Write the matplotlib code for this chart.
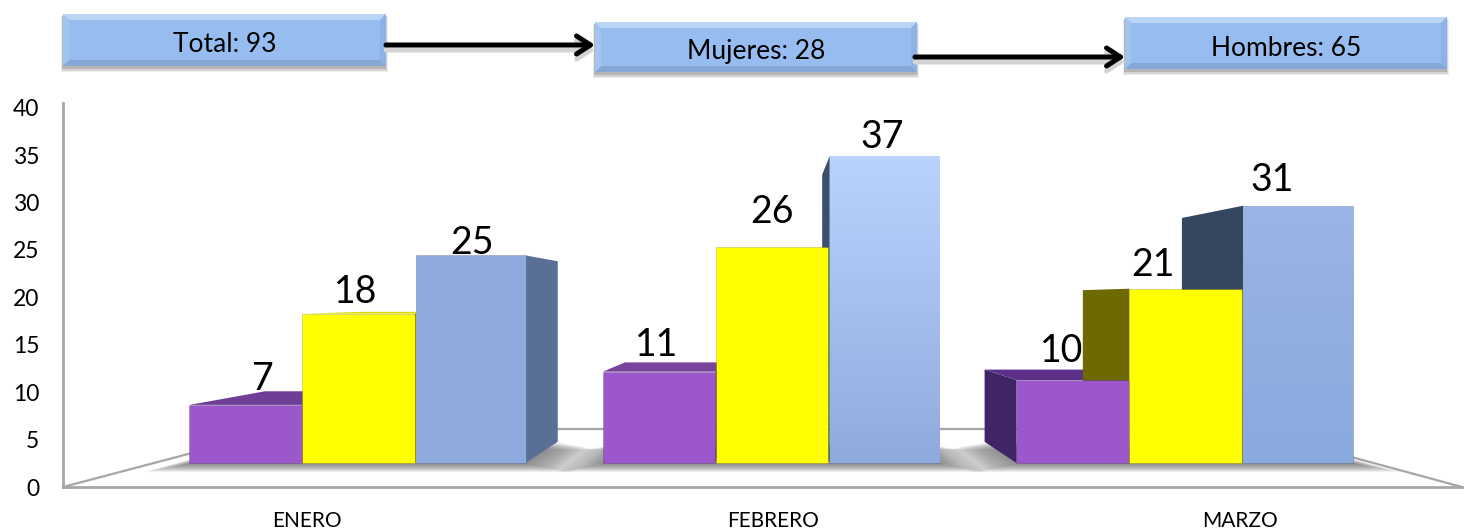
import numpy as np
import matplotlib
matplotlib.use('Agg')
import matplotlib.pyplot as plt
from matplotlib.colors import LinearSegmentedColormap
from matplotlib.patches import Polygon, Rectangle

plt.rcParams['font.family'] = ['Lato', 'DejaVu Sans']

# data
months = ['ENERO', 'FEBRERO', 'MARZO']
purple_vals = [7, 11, 10]
yellow_vals = [18, 26, 21]
blue_vals = [25, 37, 31]
y_ticks = [0, 5, 10, 15, 20, 25, 30, 35, 40]
box_labels = ['Total: 93', 'Mujeres: 28', 'Hombres: 65']

W, H = 1471, 531
fig = plt.figure(figsize=(W / 100, H / 100), dpi=100)

# the axis frame, a little wider than the bars because of the fake perspective
ax = fig.add_axes([63 / W, (H - 487) / H, (1462 - 63) / W, (487 - 103) / H])
x_lim = (-0.523, 2.477)
ax.set_xlim(x_lim)
ax.set_ylim(0, 40.5)
ax.set_xticks(range(3), months)
ax.set_yticks(y_ticks)
ax.tick_params(axis='both', length=0)
ax.tick_params(axis='x', labelsize=15, pad=17)
ax.tick_params(axis='y', labelsize=16.5, pad=17)
ax.spines[['top', 'right']].set_visible(False)
ax.spines[['left', 'bottom']].set_color('#a6a6a6')
ax.spines[['left', 'bottom']].set_linewidth(2)

# bars live on their own scale: 8.3 px per unit, base at y=463, groups 413.5 px apart
bx = fig.add_axes([0, 0, 1, 1], zorder=2)
bx.patch.set_alpha(0)
bx.axis('off')
xlim = (-358.5 / 413.5, (W - 358.5) / 413.5)
ylim = ((463 - H) / 8.3, 463 / 8.3)
bx.set_xlim(xlim)
bx.set_ylim(ylim)

# vanishing point of the 3D look
vp = np.array([1.0, (463 - 300) / 8.3])
depth = 0.13


def back(x, y, k=depth):
    return (x + k * (vp[0] - x), y + k * (vp[1] - y))


# floor
c0 = bx.transData.inverted().transform(ax.transData.transform((x_lim[0], 0)))
c1 = bx.transData.inverted().transform(ax.transData.transform((x_lim[1], 0)))
floor_pts = [c0, back(*c0, k=0.31), back(*c1, k=0.31), c1]
xs, ys = zip(*floor_pts)
bx.plot(xs, ys, color='#a6a6a6', lw=1.6, zorder=1)

widths = [0.272, 0.272, 0.265]
offsets = [-0.273, 0, 0.272]
series = [purple_vals, yellow_vals, blue_vals]
front_cols = ['#9c57cd', '#ffff00', '#8faadc']
cap_cols = [['#6f3f98', '#7a449c', '#5c2f88'], ['#d9d900', '#c8c800', '#6c6a00'], ['#7d96c4', '#7d96c4', '#7d96c4']]
side_cols = [['#5a2f80', '#5a2f80', '#3f2566'], ['#6c6a00', '#6c6a00', '#6c6a00'], ['#5a6f95', '#3b506f', '#35475f']]
gradients = {(2, 0): ('#8faadc', '#8faadc'), (2, 1): ('#b9d3fd', '#8fabde'), (2, 2): ('#9ab4e5', '#8aa9dd')}

# soft shadow on the floor, many thin layers so it fades out smoothly
for g in range(3):
    for e in np.linspace(0.11, 0.0, 24):
        l, r = g - 0.41 - e, g + 0.41 + e
        y0 = -0.1 - e * 9
        shadow = [(l, y0), (r, y0), back(r, y0), back(l, y0)]
        bx.add_patch(Polygon(shadow, fc='#707070', ec='none', alpha=0.05, zorder=2))

# sides and caps first, fronts over them
for s, vals in enumerate(series):
    for g, v in enumerate(vals):
        left = g + offsets[s] - widths[s] / 2
        right = left + widths[s]
        if left > vp[0]:
            edge = left
        elif right < vp[0]:
            edge = right
        else:
            edge = None
        if edge is not None:
            face = [(edge, 0), (edge, v), back(edge, v), back(edge, 0)]
            bx.add_patch(Polygon(face, fc=side_cols[s][g], ec='none', zorder=3))
        if v < vp[1]:
            cap = [(left, v), (right, v), back(right, v), back(left, v)]
            bx.add_patch(Polygon(cap, fc=cap_cols[s][g], ec='none', zorder=3))

for s, vals in enumerate(series):
    pos = [g + offsets[s] for g in range(3)]
    bars = bx.bar(pos, vals, width=widths[s], color=front_cols[s], edgecolor='#00000030', linewidth=0.6, zorder=4)
    for g, b in enumerate(bars):
        if (s, g) in gradients:
            cm = LinearSegmentedColormap.from_list('g', gradients[(s, g)][::-1])
            im = bx.imshow(np.linspace(1, 0, 64).reshape(-1, 1), cmap=cm, aspect='auto', zorder=4.1,
                           extent=[b.get_x(), b.get_x() + b.get_width(), 0, b.get_height()])
            im.set_clip_path(b)
bx.set_xlim(xlim)
bx.set_ylim(ylim)

# value labels, nudged by hand like in the original (px from top centre of the bar)
label_dx = [[17, -3, -11], [-3, 0, -33], [1, -2, -26]]
label_dy = [[26, 27, 29], [22, 35, 24], [13, 19, 26]]
for s, vals in enumerate(series):
    for g, v in enumerate(vals):
        bx.annotate(str(v), (g + offsets[s], v),
                    xytext=(label_dx[s][g] * 0.72, label_dy[s][g] * 0.72), textcoords='offset points',
                    ha='center', va='center', fontsize=27, color='black', zorder=6)

# boxes and arrows on top, in pixel coordinates
top = fig.add_axes([0, 0, 1, 1], zorder=3)
top.patch.set_alpha(0)
top.axis('off')
top.set_xlim(0, W)
top.set_ylim(H, 0)

box_x = [(63, 386), (595, 917), (1125, 1447)]
box_y = [(14, 66), (22, 72), (17, 69)]
bev = 6
for (x0, x1), (y0, y1), label in zip(box_x, box_y, box_labels):
    for grow, a in [(4, 0.12), (2.5, 0.2), (1, 0.3)]:
        top.add_patch(Rectangle((x0 - grow / 2, y0 + 2), x1 - x0 + grow, y1 - y0 + grow, fc='#707070', ec='none', alpha=a))
    top.add_patch(Rectangle((x0, y0), x1 - x0, y1 - y0, fc='#97bdf0', ec='none'))
    top.add_patch(Polygon([(x0, y0), (x1, y0), (x1 - bev, y0 + bev), (x0 + bev, y0 + bev)], fc='#b9d6f5', ec='none'))
    top.add_patch(Polygon([(x0, y1), (x1, y1), (x1 - bev, y1 - bev), (x0 + bev, y1 - bev)], fc='#85a7d6', ec='none'))
    top.add_patch(Polygon([(x0, y0), (x0 + bev, y0 + bev), (x0 + bev, y1 - bev), (x0, y1)], fc='#a2c5f0', ec='none'))
    top.add_patch(Polygon([(x1, y0), (x1 - bev, y0 + bev), (x1 - bev, y1 - bev), (x1, y1)], fc='#8db2e5', ec='none'))
    top.text((x0 + x1) / 2, (y0 + y1) / 2 + 5, label, ha='center', va='center', fontsize=19, color='black')

arrows = [((386, 45), (595, 45)), ((915, 57), (1125, 57))]
for (a, b) in arrows:
    style = '->,head_length=1.0,head_width=0.65'
    top.annotate('', xy=(b[0], b[1] + 5), xytext=(a[0], a[1] + 5),
                 arrowprops=dict(arrowstyle=style, color='#d4d4d4', lw=3.6, shrinkA=0, shrinkB=0))
    top.annotate('', xy=b, xytext=a,
                 arrowprops=dict(arrowstyle=style, color='black', lw=3.6, shrinkA=0, shrinkB=0))

fig.savefig('out.png', dpi=100)
